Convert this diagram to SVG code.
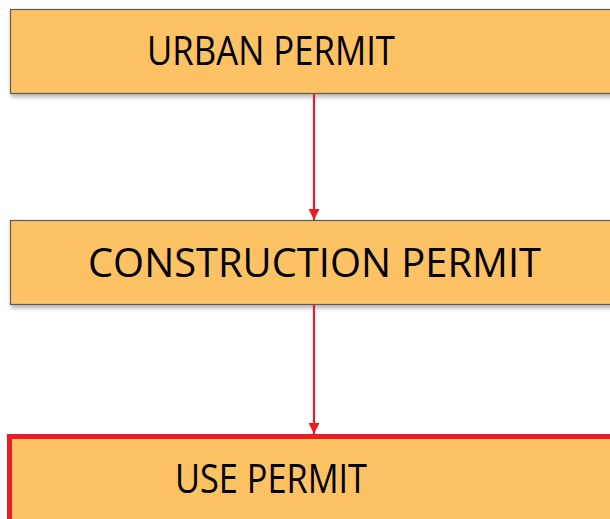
<svg xmlns="http://www.w3.org/2000/svg" width="610" height="519" viewBox="0 0 610 519">
<defs>
<filter id="sh" x="-5%" y="-10%" width="115%" height="130%">
<feDropShadow dx="1" dy="3" stdDeviation="2" flood-color="#000" flood-opacity="0.3"/>
</filter>
<marker id="ah" viewBox="0 0 10 10" refX="10" refY="5" markerWidth="11" markerHeight="11" markerUnits="userSpaceOnUse" orient="auto">
<path d="M0,0 L10,5 L0,10 z" fill="#ED1C24"/>
</marker>
</defs>
<style>
.box{fill:#FDC263;stroke:#5a5a5a;stroke-width:1.2}
.lbl{font-family:"Open Sans","Liberation Sans",Arial,sans-serif;font-size:41px;fill:#000;text-anchor:middle}
.con{stroke:#ED1C24;stroke-width:2.2;fill:none}
</style>
<rect width="610" height="519" fill="#fff"/>
<g id="urban">
<rect class="box" x="10.5" y="9.5" width="620" height="84" filter="url(#sh)"/>
<text class="lbl" x="271" y="65" textLength="248" lengthAdjust="spacingAndGlyphs">URBAN PERMIT</text>
</g>
<g id="construction">
<rect class="box" x="10.5" y="220.5" width="620" height="84" filter="url(#sh)"/>
<text class="lbl" x="314.5" y="277" textLength="453" lengthAdjust="spacingAndGlyphs">CONSTRUCTION PERMIT</text>
</g>
<g id="use">
<rect x="9.5" y="436.5" width="620" height="100" fill="#FDC263" stroke="#ED1C24" stroke-width="5"/>
<text class="lbl" x="271" y="493" textLength="192" lengthAdjust="spacingAndGlyphs">USE PERMIT</text>
</g>
<g id="connectors">
<line class="con" x1="314" y1="94" x2="314" y2="220" marker-end="url(#ah)"/>
<line class="con" x1="314" y1="305" x2="314" y2="434" marker-end="url(#ah)"/>
</g>
</svg>
